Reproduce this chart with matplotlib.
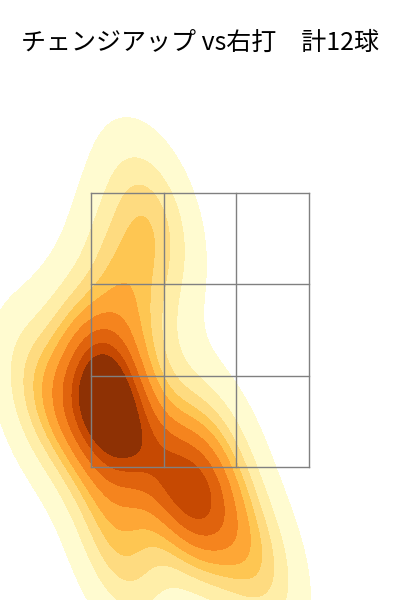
import numpy as np
import matplotlib
matplotlib.use("Agg")
import matplotlib.pyplot as plt
import seaborn as sns

plt.rcParams["font.family"] = ["Noto Sans CJK JP", "DejaVu Sans"]

# pitch locations (plate_x, plate_z)
plate_x = [-0.80, -0.65, -0.57, -0.80, -0.09, -0.11, -0.38, -0.55, -1.18, 0.42, -0.61, 0.10]
plate_z = [2.17, 2.24, 1.77, 1.70, 1.24, 1.28, 3.34, 2.82, 1.99, 0.82, 0.89, 1.62]

zone_x = [-0.83, -0.277, 0.277, 0.83]
zone_z = [1.5, 2.167, 2.833, 3.5]

title = "チェンジアップ vs右打　計12球"

fig = plt.figure(figsize=(4, 6), dpi=100)
ax = fig.add_axes([0, 0, 1, 0.87])
sns.kdeplot(x=plate_x, y=plate_z, fill=True, cmap="YlOrBr", bw_adjust=0.85, ax=ax)

for xv in zone_x:
    ax.plot([xv, xv], [zone_z[0], zone_z[-1]], color="gray", lw=1)
for zv in zone_z:
    ax.plot([zone_x[0], zone_x[-1]], [zv, zv], color="gray", lw=1)

ax.set_xlim(-1.523, 1.523)
ax.set_ylim(0.529, 4.34)
ax.axis("off")
fig.text(0.5, 0.928, title, ha="center", va="center", fontsize=18)

fig.savefig("out.png", dpi=100)
